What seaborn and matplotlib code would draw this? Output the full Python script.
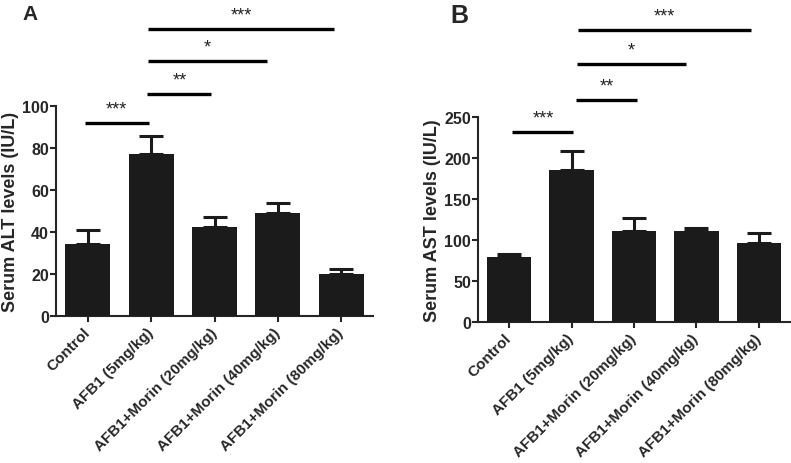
import numpy as np
import pandas as pd
import matplotlib
matplotlib.use("Agg")
import matplotlib.pyplot as plt
import seaborn as sns

# ---------------------------
# data
# ---------------------------
groups = ["Control", "AFB1 (5mg/kg)", "AFB1+Morin (20mg/kg)",
          "AFB1+Morin (40mg/kg)", "AFB1+Morin (80mg/kg)"]

alt_mean = [34.5, 77.0, 42.5, 49.0, 20.0]
alt_err = [6.5, 8.5, 4.5, 5.0, 2.5]

ast_mean = [79.5, 185.5, 111.5, 111.5, 96.0]
ast_err = [3.5, 22.5, 15.0, 3.0, 12.0]

# significance: (start pos, end pos, label)
alt_sig = [(-0.05, 0.97, "***"), (0.94, 1.95, "**"), (0.95, 2.83, "*"), (0.95, 3.89, "***")]
alt_sig_y = [91.8, 105.7, 121.4, 136.8]
ast_sig = [(0.05, 1.03, "***"), (1.07, 2.05, "**"), (1.09, 2.83, "*"), (1.1, 3.87, "***")]
ast_sig_y = [232, 271, 315, 356]

sns.set_style("ticks")
plt.rcParams["font.family"] = ["Liberation Sans", "DejaVu Sans"]
plt.rcParams["font.weight"] = "bold"

BAR = "#1b1b1b"

fig = plt.figure(figsize=(7.91, 4.64), dpi=100)
axA = fig.add_axes([0.0708, 0.3168, 0.4008, 0.4526])
axB = fig.add_axes([0.6043, 0.3039, 0.3944, 0.4418])


def panel(ax, mean, err, sig, sig_y, ylim, yticks, ylabel, label_x):
    df = pd.DataFrame({"group": groups, "value": mean})
    sns.barplot(data=df, x="group", y="value", color=BAR, width=0.71,
                errorbar=None, saturation=1, linewidth=0, ax=ax)
    for p in ax.patches:
        p.set_zorder(3)
    ax.errorbar(np.arange(len(groups)), mean,
                yerr=[np.zeros(len(err)), err], fmt="none",
                ecolor=BAR, elinewidth=2.2, capsize=8.5, capthick=2.2, zorder=1)
    ax.set_xlim(-0.5, len(groups) - 0.5)
    ax.set_ylim(*ylim)
    ax.set_yticks(yticks)
    ax.set_xlabel("")
    ax.set_ylabel(ylabel, fontsize=13, fontweight="bold")
    ax.yaxis.set_label_coords(label_x, 0.5)
    sns.despine(ax=ax)
    for s in ["left", "bottom"]:
        ax.spines[s].set_linewidth(1.5)
    ax.tick_params(width=1.5, length=4, labelsize=11.5, pad=1)
    ax.tick_params(axis="x", pad=6)
    ax.set_xticks(range(len(groups)))
    ax.set_xticklabels(groups, rotation=45, ha="right", va="center",
                       rotation_mode="anchor", fontsize=11, fontweight="bold")
    for (x0, x1, lab), y in zip(sig, sig_y):
        ax.plot([x0, x1], [y, y], color="black", lw=2.4, clip_on=False,
                solid_capstyle="butt")
        ax.annotate(lab, xy=((x0 + x1) / 2, y), xytext=(0, 4),
                    textcoords="offset points", ha="center", va="bottom",
                    fontsize=13, fontweight="normal", color="#222222",
                    annotation_clip=False)


panel(axA, alt_mean, alt_err, alt_sig, alt_sig_y, (0, 100),
      [0, 20, 40, 60, 80, 100], "Serum ALT levels (IU/L)", -0.118)
panel(axB, ast_mean, ast_err, ast_sig, ast_sig_y, (0, 250),
      [0, 50, 100, 150, 200, 250], "Serum AST levels (IU/L)", -0.118)

fig.text(0.028, 0.99, "A", fontsize=15, fontweight="bold", va="top")
fig.text(0.570, 0.992, "B", fontsize=18, fontweight="bold", va="top")

fig.savefig("out.png", dpi=100)
